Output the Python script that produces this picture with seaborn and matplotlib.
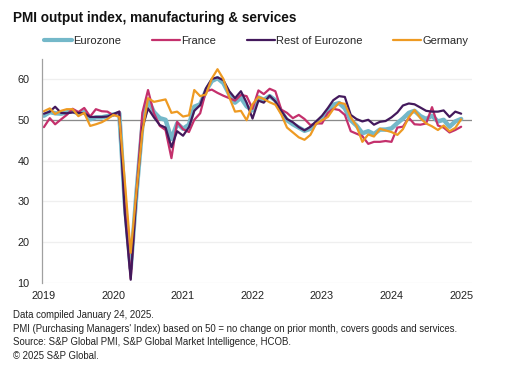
import matplotlib
matplotlib.use("Agg")
import matplotlib.pyplot as plt
from matplotlib.lines import Line2D
import seaborn as sns
import pandas as pd

months = pd.date_range("2019-01-01", "2025-01-01", freq="MS")

eurozone = [51.0, 51.9, 51.6, 51.5, 51.8, 52.2, 51.5, 51.9, 50.1, 50.6, 50.6, 50.9,
            51.3, 51.6, 29.7, 13.6, 31.9, 48.5, 54.9, 51.9, 50.4, 50.0, 45.3, 49.1,
            47.8, 48.8, 53.2, 53.8, 57.1, 59.5, 60.2, 59.0, 56.2, 54.2, 55.4, 53.3,
            52.3, 55.5, 54.9, 55.8, 54.8, 52.0, 49.9, 48.9, 48.1, 47.3, 47.8, 49.3,
            50.3, 52.0, 53.7, 54.1, 52.8, 49.9, 48.6, 46.7, 47.2, 46.5, 47.6, 47.6,
            47.9, 49.2, 50.3, 51.7, 52.2, 50.9, 50.2, 51.0, 49.6, 50.0, 48.3, 49.6,
            50.2]
france = [48.2, 50.4, 48.9, 50.1, 51.2, 52.7, 51.9, 52.9, 50.8, 52.6, 52.1, 52.0,
          51.1, 52.0, 28.9, 11.1, 32.1, 51.7, 57.3, 51.6, 48.5, 47.5, 40.6, 49.5,
          47.7, 47.0, 50.0, 51.6, 57.0, 57.4, 56.6, 55.9, 55.3, 54.7, 56.1, 55.8,
          52.7, 57.2, 56.3, 57.6, 57.0, 52.5, 51.7, 50.4, 51.2, 50.2, 48.7, 49.1,
          49.1, 51.7, 52.7, 52.4, 51.2, 47.2, 46.6, 46.0, 44.1, 44.6, 44.6, 44.8,
          44.6, 48.1, 48.3, 50.5, 48.9, 48.8, 49.1, 53.1, 48.6, 48.1, 46.9, 47.5,
          48.3]
rest = [51.5, 52.0, 53.2, 51.7, 51.6, 51.8, 51.7, 51.6, 50.7, 50.7, 50.7, 50.8,
        51.4, 52.0, 27.0, 10.8, 31.6, 48.0, 52.8, 50.6, 48.7, 48.1, 43.3, 47.2,
        46.1, 48.2, 52.2, 53.6, 57.7, 60.0, 60.4, 59.7, 57.0, 55.3, 57.0, 54.2,
        50.3, 54.7, 54.2, 55.9, 54.5, 52.2, 50.2, 49.4, 48.2, 47.4, 48.3, 49.6,
        51.0, 52.9, 54.8, 55.8, 55.6, 51.2, 50.2, 49.6, 50.0, 48.8, 49.5, 49.7,
        50.6, 51.8, 53.5, 54.0, 53.8, 53.0, 52.2, 52.0, 52.0, 52.3, 50.7, 52.0,
        51.5]
germany = [52.1, 52.8, 51.4, 52.2, 52.6, 52.6, 50.9, 51.7, 48.5, 48.9, 49.4, 50.2,
           51.2, 50.7, 35.0, 17.4, 32.3, 47.0, 55.3, 54.4, 54.7, 55.0, 51.7, 52.0,
           50.8, 51.1, 57.3, 55.8, 56.2, 60.1, 62.4, 60.0, 55.5, 52.0, 52.2, 49.9,
           53.8, 55.6, 55.1, 54.3, 53.7, 51.3, 48.1, 46.9, 45.7, 45.1, 46.3, 49.0,
           49.9, 50.7, 52.6, 54.2, 53.9, 50.6, 48.5, 44.6, 46.4, 45.9, 47.8, 47.4,
           47.0, 46.3, 47.7, 50.6, 52.4, 50.4, 49.1, 48.4, 47.5, 48.6, 47.2, 48.0,
           50.1]

series_names = ["Eurozone", "France", "Rest of Eurozone", "Germany"]
series_values = [eurozone, france, rest, germany]
colors = ["#74B8C9", "#C4306C", "#43195C", "#EE9A22"]
widths = [3.2, 1.6, 1.6, 1.6]

year_ticks = [str(y) for y in range(2019, 2026)]
y_ticks = [10, 20, 30, 40, 50, 60]

sns.set_theme(style="white")
plt.rcParams['font.family'] = ['Liberation Sans', 'DejaVu Sans']

fig = plt.figure(figsize=(5.18, 3.77), dpi=100)
ax = fig.add_axes([42/518, 1-283/377, (472-42)/518, (283-58.6)/377])

for name, vals, c, w in zip(series_names, series_values, colors, widths):
    df = pd.DataFrame({"date": months, "value": vals})
    sns.lineplot(data=df, x="date", y="value", ax=ax, color=c, linewidth=w, label=name)

ax.set_xlim(pd.Timestamp("2018-12-22"), pd.Timestamp("2025-02-27"))
ax.set_ylim(10, 65)
ax.set_yticks(y_ticks)
ax.set_xticks([pd.Timestamp(f"{y}-01-01") for y in year_ticks])
ax.set_xticklabels(year_ticks)
ax.set_xlabel("")
ax.set_ylabel("")
ax.grid(axis="y", color="#EFEFEF", linewidth=0.9, zorder=0)
ax.set_axisbelow(True)
ax.axhline(50, color="#8A8A8A", linewidth=0.9, zorder=1.5)
for s in ["top", "right", "bottom"]:
    ax.spines[s].set_visible(False)
ax.spines["left"].set_color("#A0A0A0")
ax.spines["left"].set_linewidth(0.9)
ax.tick_params(axis="both", length=0, labelsize=7.8, colors="#222222")
ax.tick_params(axis="y", pad=9)
ax.tick_params(axis="x", pad=6)
ax.legend_.remove()

handles = [Line2D([0], [0], color=c, lw=(3.0 if i == 0 else 1.6)) for i, c in enumerate(colors)]
fig.legend(handles, series_names, loc="center left", bbox_to_anchor=(44/518, 1-41/377),
           ncol=4, frameon=False, fontsize=8.0, handlelength=2.5, handletextpad=0.15,
           columnspacing=2.75, borderaxespad=0, borderpad=0)

fig.text(13/518, 1-18/377, "PMI output index, manufacturing & services", fontsize=9.8,
         fontweight="bold", va="center", ha="left", color="#111111")

footer = ["Data compiled January 24, 2025.",
          "PMI (Purchasing Managers' Index) based on 50 = no change on prior month, covers goods and services.",
          "Source: S&P Global PMI, S&P Global Market Intelligence, HCOB.",
          "\u00a9 2025 S&P Global."]
for i, t in enumerate(footer):
    fig.text(13/518, 1-(315 + i*13.6)/377, t, fontsize=6.9, va="center", ha="left", color="#222222")

fig.savefig("out.png", dpi=100)
